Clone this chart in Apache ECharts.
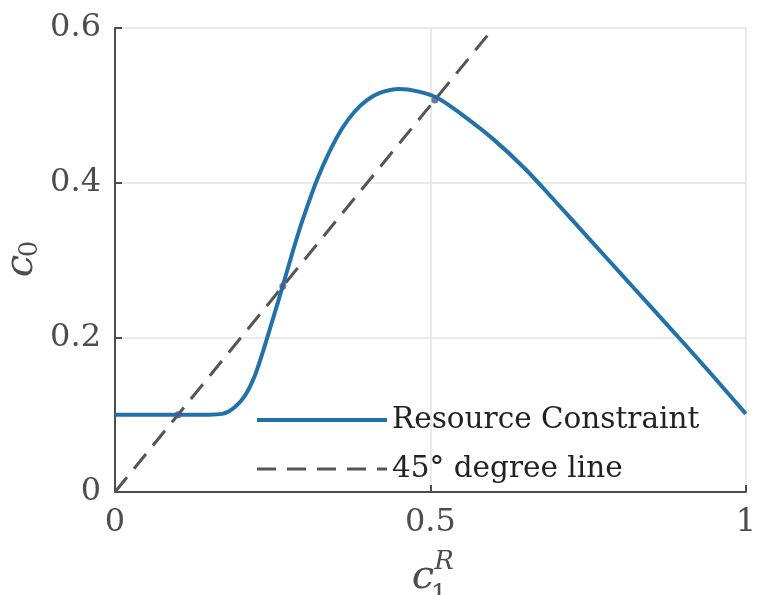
<!DOCTYPE html>
<html>
<head>
<meta charset="utf-8">
<script src="https://cdn.jsdelivr.net/npm/echarts@6/dist/echarts.min.js"></script>
<style>
  html, body { margin: 0; padding: 0; background: #fff; }
  #chart { width: 759px; height: 595px; }
</style>
</head>
<body>
<div id="chart"></div>
<script>
// values
var c1R = [0, 0.05, 0.1, 0.15, 0.17, 0.18, 0.19, 0.2, 0.21, 0.22, 0.23, 0.24, 0.25, 0.26, 0.27,
           0.28, 0.29, 0.3, 0.32, 0.34, 0.36, 0.38, 0.4, 0.42, 0.45, 0.48, 0.51, 0.55, 0.6,
           0.65, 0.7, 0.75, 0.8, 0.85, 0.9, 0.95, 1];
var resource = [0.1, 0.1, 0.1, 0.1, 0.101, 0.104, 0.11, 0.118, 0.13, 0.147, 0.17, 0.196, 0.223, 0.25, 0.278,
                0.306, 0.333, 0.358, 0.403, 0.44, 0.47, 0.492, 0.507, 0.516, 0.521, 0.518, 0.51, 0.488, 0.456,
                0.418, 0.374, 0.329, 0.284, 0.239, 0.194, 0.148, 0.101];
var diagX = [0, 0.6];
var diagY = [0, 0.6];
var crossX = [0.1, 0.266, 0.507];
var crossY = [0.1, 0.266, 0.507];
var xTicks = [0, 0.5, 1];
var yTicks = [0, 0.2, 0.4, 0.6];

function pairs(xs, ys) {
    return xs.map(function (x, i) { return [x, ys[i]]; });
}

var serif = 'DejaVu Serif';
var axisGrey = '#4d4d4d';

var option = {
    backgroundColor: '#fff',
    animation: false,
    grid: { left: 115, right: 7, top: 28, bottom: 103 },
    xAxis: {
        type: 'value',
        min: 0, max: 1, interval: 0.5,
        axisLine: { lineStyle: { color: axisGrey, width: 2 } },
        axisTick: { inside: true, length: 7, lineStyle: { color: axisGrey, width: 2 } },
        axisLabel: {
            margin: 15, color: axisGrey, fontFamily: serif, fontSize: 32,
            formatter: function (v) { return xTicks.indexOf(v) >= 0 ? String(v) : ''; }
        },
        splitLine: { lineStyle: { color: '#e3e3e3', width: 1.5 } }
    },
    yAxis: {
        type: 'value',
        min: 0, max: 0.6, interval: 0.2,
        axisLine: { show: true, lineStyle: { color: axisGrey, width: 2 } },
        axisTick: { show: true, inside: true, length: 7, lineStyle: { color: axisGrey, width: 2 } },
        axisLabel: {
            margin: 14, color: axisGrey, fontFamily: serif, fontSize: 32,
            formatter: function (v) {
                var t = yTicks.filter(function (y) { return Math.abs(y - v) < 1e-9; });
                return t.length ? String(t[0]) : '';
            }
        },
        splitLine: { lineStyle: { color: '#e3e3e3', width: 1.5 } }
    },
    legend: {
        orient: 'vertical',
        left: 250, top: 395,
        itemWidth: 130, itemHeight: 20, itemGap: 9,
        itemStyle: { opacity: 0 },
        data: [
            { name: 'Resource Constraint', lineStyle: { width: 4 } },
            { name: '45\u00b0 degree line', lineStyle: { width: 3 } }
        ],
        textStyle: { fontFamily: serif, fontSize: 29.5, color: '#222', lineHeight: 40 }
    },
    graphic: [
        { type: 'text', x: 22, y: 266, rotation: Math.PI / 2,
          style: { text: 'c', fontFamily: serif, fontStyle: 'italic', fontSize: 40, fill: axisGrey, align: 'center', verticalAlign: 'middle' } },
        { type: 'text', x: 30, y: 249, rotation: Math.PI / 2,
          style: { text: '0', fontFamily: serif, fontSize: 26, fill: axisGrey, align: 'center', verticalAlign: 'middle' } },
        { type: 'text', x: 423, y: 578,
          style: { text: 'c', fontFamily: serif, fontStyle: 'italic', fontSize: 40, fill: axisGrey, align: 'center', verticalAlign: 'middle' } },
        { type: 'text', x: 439, y: 596,
          style: { text: '1', fontFamily: serif, fontSize: 26, fill: axisGrey, align: 'center', verticalAlign: 'middle' } },
        { type: 'text', x: 444, y: 562,
          style: { text: 'R', fontFamily: serif, fontStyle: 'italic', fontSize: 26, fill: axisGrey, align: 'center', verticalAlign: 'middle' } }
    ],
    series: [
        {
            name: 'Resource Constraint',
            type: 'line',
            smooth: 0.3,
            symbol: 'none',
            data: pairs(c1R, resource),
            lineStyle: { color: '#2272aa', width: 4 },
            itemStyle: { color: '#2272aa' },
            z: 3
        },
        {
            name: '45\u00b0 degree line',
            type: 'line',
            symbol: 'none',
            data: pairs(diagX, diagY),
            lineStyle: { color: '#555555', width: 3, type: [19, 11] },
            itemStyle: { color: '#555555' },
            z: 2
        },
        {
            name: 'crossings',
            type: 'scatter',
            symbolSize: 7,
            data: pairs(crossX, crossY),
            itemStyle: { color: '#4a5888' },
            z: 4
        }
    ]
};

var myChart = echarts.init(document.getElementById('chart'));
myChart.setOption(option);
</script>
</body>
</html>
